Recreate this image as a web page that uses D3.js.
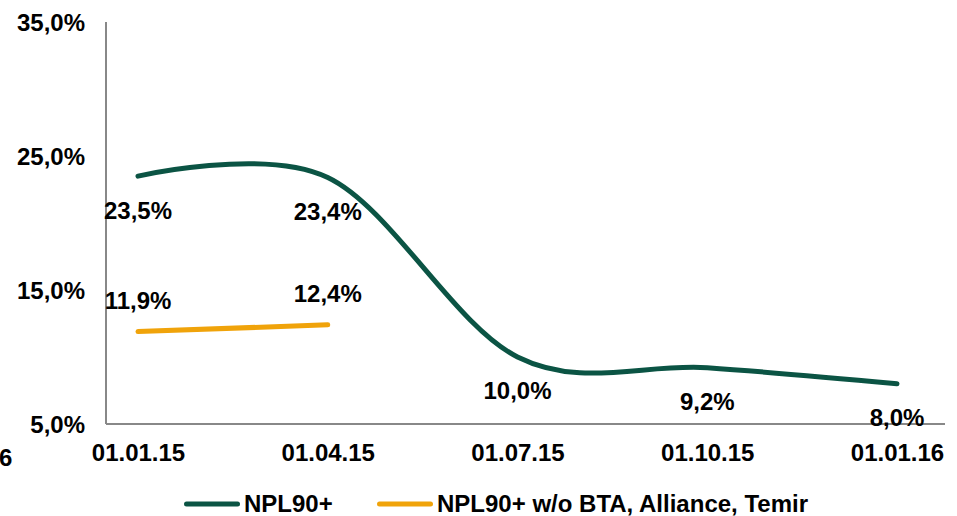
<!DOCTYPE html>
<html>
<head>
<meta charset="utf-8">
<script src="https://cdn.jsdelivr.net/npm/d3@7/dist/d3.min.js"></script>
<style>
  html, body { margin: 0; padding: 0; background: #fff; }
  svg { display: block; }
  text { font-family: "Liberation Sans", Arial, sans-serif; font-weight: bold; fill: #000; }
</style>
</head>
<body>
<script>
// NPL90+ ratio by reporting date
const dates = ["01.01.15", "01.04.15", "01.07.15", "01.10.15", "01.01.16"];
const npl90 = [23.5, 23.4, 10.0, 9.2, 8.0];
const npl90Adj = [11.9, 12.4];           // excluding BTA, Alliance, Temir
const yTicks = [5, 15, 25, 35];
const seriesNames = ["NPL90+", "NPL90+ w/o BTA, Alliance, Temir"];
const seriesColors = ["#0b5444", "#f0a30a"];

const W = 957, H = 516;
const FS = 24;
const svg = d3.select("body").append("svg").attr("width", W).attr("height", H);

const plot = { left: 106, right: 945, top: 22, bottom: 424 };

const x = d3.scalePoint().domain(dates).range([138, 897]);
const y = d3.scaleLinear().domain([5, 35]).range([plot.bottom, plot.top]);

const fmt = v => d3.format(".1f")(v).replace(".", ",") + "%";

// axis lines
svg.append("line")
  .attr("x1", plot.left).attr("x2", plot.left)
  .attr("y1", plot.top).attr("y2", plot.bottom)
  .attr("stroke", "#888").attr("stroke-width", 2);
svg.append("line")
  .attr("x1", plot.left).attr("x2", plot.right)
  .attr("y1", plot.bottom).attr("y2", plot.bottom)
  .attr("stroke", "#888").attr("stroke-width", 2);

// y axis labels
const yAxis = d3.axisLeft(y).tickValues(yTicks).tickSize(0).tickPadding(0).tickFormat(fmt);
const gy = svg.append("g").attr("transform", `translate(85,0)`).call(yAxis);
gy.select(".domain").remove();
gy.selectAll("text").attr("font-size", FS).attr("dy", "0.35em");

// stray label at the bottom-left corner
svg.append("text").attr("x", -1).attr("y", 458).attr("dy", "0.35em")
  .attr("font-size", FS).text("6");

// x axis labels
const xAxis = d3.axisBottom(x).tickSize(0).tickPadding(0);
const gx = svg.append("g").attr("transform", `translate(0,453)`).call(xAxis);
gx.select(".domain").remove();
gx.selectAll("text").attr("font-size", FS).attr("dy", "0.35em");

const line = d3.line()
  .x((d, i) => x(dates[i]))
  .y(d => y(d))
  .curve(d3.curveCardinal.tension(0));

svg.append("path").datum(npl90)
  .attr("d", line).attr("fill", "none")
  .attr("stroke", seriesColors[0]).attr("stroke-width", 5).attr("stroke-linecap", "round");

svg.append("path").datum(npl90Adj)
  .attr("d", line).attr("fill", "none")
  .attr("stroke", seriesColors[1]).attr("stroke-width", 5).attr("stroke-linecap", "round");

// value labels
svg.append("g").selectAll("text").data(npl90).join("text")
  .attr("x", (d, i) => x(dates[i])).attr("y", d => y(d) + 34)
  .attr("dy", "0.35em").attr("text-anchor", "middle").attr("font-size", FS)
  .text(fmt);

svg.append("g").selectAll("text").data(npl90Adj).join("text")
  .attr("x", (d, i) => x(dates[i])).attr("y", d => y(d) - 31)
  .attr("dy", "0.35em").attr("text-anchor", "middle").attr("font-size", FS)
  .text(fmt);

// legend
const legendItems = [
  { name: seriesNames[0], color: seriesColors[0], x: 184 },
  { name: seriesNames[1], color: seriesColors[1], x: 377 }
];
const lg = svg.append("g").selectAll("g").data(legendItems).join("g")
  .attr("transform", d => `translate(${d.x},504)`);
lg.append("line").attr("x1", 2.5).attr("x2", 53.5).attr("y1", 0).attr("y2", 0)
  .attr("stroke", d => d.color).attr("stroke-width", 5).attr("stroke-linecap", "round");
lg.append("text").attr("x", 60).attr("dy", "0.35em").attr("font-size", FS)
  .text(d => d.name);
</script>
</body>
</html>
